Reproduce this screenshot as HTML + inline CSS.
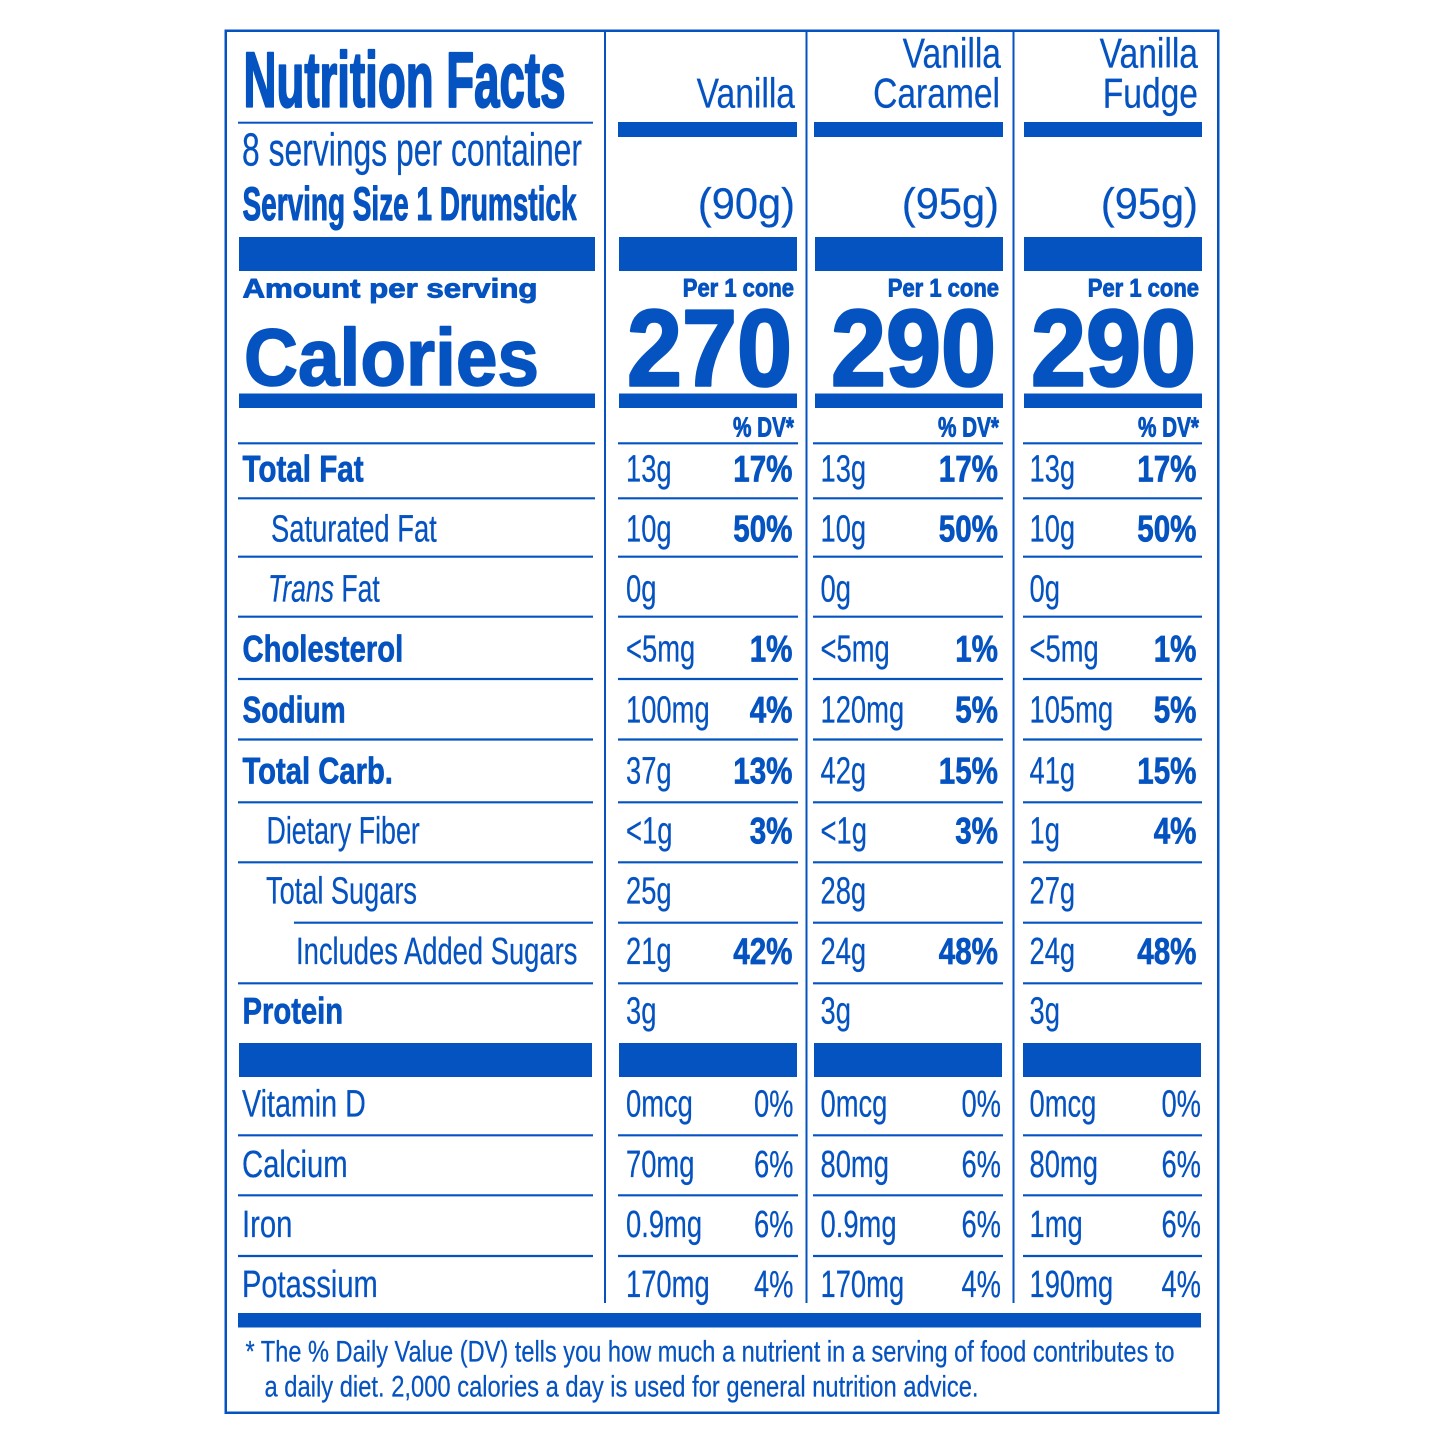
<!DOCTYPE html>
<html>
<head>
<meta charset="utf-8">
<style>
html,body{margin:0;padding:0;background:#fff;}
svg{display:block;}
text{font-family:"Liberation Sans",Arial,sans-serif;fill:#0553c1;}
.b{font-weight:bold;stroke:#0553c1;stroke-width:0.7px;stroke-linejoin:round;}
.r{stroke:#0553c1;stroke-width:0.25px;}
</style>
</head>
<body>
<svg width="1445" height="1445" viewBox="0 0 1445 1445" xmlns="http://www.w3.org/2000/svg">
<rect x="0" y="0" width="1445" height="1445" fill="#fff"/>
<g fill="#0553c1" stroke="none">
<!-- outer border -->
<rect x="225" y="29.5" width="994" height="2.5"/>
<rect x="225" y="1411.5" width="994" height="2.5"/>
<rect x="224.5" y="29.5" width="2.5" height="1384.5"/>
<rect x="1217" y="29.5" width="2.5" height="1384.5"/>
<!-- dividers -->
<rect x="604" y="30" width="2" height="1273"/>
<rect x="805.5" y="30" width="2" height="1273"/>
<rect x="1012.5" y="30" width="2" height="1273"/>
<!-- top rules/bars -->
<rect x="238" y="121.7" width="355" height="2"/>
<rect x="618" y="122" width="179" height="15"/>
<rect x="814" y="122" width="189" height="15"/>
<rect x="1024" y="122" width="178" height="15"/>
<!-- thick bar 2 -->
<rect x="239" y="237" width="356" height="34"/>
<rect x="619" y="237" width="178" height="34"/>
<rect x="815" y="237" width="188" height="34"/>
<rect x="1024" y="237" width="178" height="34"/>
<!-- bar 3 -->
<rect x="239" y="393.5" width="356" height="14.5"/>
<rect x="619" y="393.5" width="178" height="14.5"/>
<rect x="815" y="393.5" width="188" height="14.5"/>
<rect x="1024" y="393.5" width="178" height="14.5"/>
<!-- bar 4 -->
<rect x="239" y="1043" width="353" height="34"/>
<rect x="619" y="1043" width="178" height="34"/>
<rect x="814" y="1043" width="188" height="34"/>
<rect x="1023" y="1043" width="178" height="34"/>
<!-- bottom bar -->
<rect x="238" y="1313" width="963" height="14.5"/>
</g>
<!-- row rules -->
<g stroke="#0553c1" stroke-width="2.2">
<line x1="238" y1="443.3" x2="595" y2="443.3"/><line x1="618" y1="443.3" x2="798" y2="443.3"/><line x1="813" y1="443.3" x2="1003" y2="443.3"/><line x1="1023" y1="443.3" x2="1202" y2="443.3"/>
<line x1="238" y1="498.3" x2="595" y2="498.3"/><line x1="618" y1="498.3" x2="798" y2="498.3"/><line x1="813" y1="498.3" x2="1003" y2="498.3"/><line x1="1023" y1="498.3" x2="1202" y2="498.3"/>
<line x1="238" y1="556.7" x2="593" y2="556.7"/><line x1="618" y1="556.7" x2="798" y2="556.7"/><line x1="813" y1="556.7" x2="1003" y2="556.7"/><line x1="1023" y1="556.7" x2="1202" y2="556.7"/>
<line x1="238" y1="616.7" x2="593" y2="616.7"/><line x1="618" y1="616.7" x2="798" y2="616.7"/><line x1="813" y1="616.7" x2="1003" y2="616.7"/><line x1="1023" y1="616.7" x2="1202" y2="616.7"/>
<line x1="238" y1="679" x2="593" y2="679"/><line x1="618" y1="679" x2="798" y2="679"/><line x1="813" y1="679" x2="1003" y2="679"/><line x1="1023" y1="679" x2="1202" y2="679"/>
<line x1="238" y1="739.5" x2="593" y2="739.5"/><line x1="618" y1="739.5" x2="798" y2="739.5"/><line x1="813" y1="739.5" x2="1003" y2="739.5"/><line x1="1023" y1="739.5" x2="1202" y2="739.5"/>
<line x1="238" y1="802.3" x2="593" y2="802.3"/><line x1="618" y1="802.3" x2="798" y2="802.3"/><line x1="813" y1="802.3" x2="1003" y2="802.3"/><line x1="1023" y1="802.3" x2="1202" y2="802.3"/>
<line x1="238" y1="862.3" x2="593" y2="862.3"/><line x1="618" y1="862.3" x2="798" y2="862.3"/><line x1="813" y1="862.3" x2="1003" y2="862.3"/><line x1="1023" y1="862.3" x2="1202" y2="862.3"/>
<line x1="294" y1="922.7" x2="593" y2="922.7"/><line x1="618" y1="922.7" x2="798" y2="922.7"/><line x1="813" y1="922.7" x2="1003" y2="922.7"/><line x1="1023" y1="922.7" x2="1202" y2="922.7"/>
<line x1="238" y1="983.3" x2="593" y2="983.3"/><line x1="618" y1="983.3" x2="798" y2="983.3"/><line x1="813" y1="983.3" x2="1003" y2="983.3"/><line x1="1023" y1="983.3" x2="1202" y2="983.3"/>
<line x1="238" y1="1135.3" x2="593" y2="1135.3"/><line x1="618" y1="1135.3" x2="798" y2="1135.3"/><line x1="813" y1="1135.3" x2="1003" y2="1135.3"/><line x1="1023" y1="1135.3" x2="1202" y2="1135.3"/>
<line x1="238" y1="1195.3" x2="593" y2="1195.3"/><line x1="618" y1="1195.3" x2="798" y2="1195.3"/><line x1="813" y1="1195.3" x2="1003" y2="1195.3"/><line x1="1023" y1="1195.3" x2="1202" y2="1195.3"/>
<line x1="238" y1="1256" x2="593" y2="1256"/><line x1="618" y1="1256" x2="798" y2="1256"/><line x1="813" y1="1256" x2="1003" y2="1256"/><line x1="1023" y1="1256" x2="1202" y2="1256"/>
</g>

<!-- header left -->
<text class="b" x="243.5" y="106.7" font-size="78" style="stroke-width:2.2px" textLength="322" lengthAdjust="spacingAndGlyphs">Nutrition Facts</text>
<text class="r" x="242" y="165.5" font-size="46" textLength="340" lengthAdjust="spacingAndGlyphs">8 servings per container</text>
<text class="b" x="242.5" y="220" font-size="47" style="stroke-width:1.1px" textLength="334" lengthAdjust="spacingAndGlyphs">Serving Size 1 Drumstick</text>
<text class="b" x="242.5" y="297.7" font-size="27" style="stroke-width:0.9px" font-weight="900" textLength="295" lengthAdjust="spacingAndGlyphs">Amount per serving</text>
<text class="b" x="244" y="385" font-size="81" style="stroke-width:1.6px" textLength="295" lengthAdjust="spacingAndGlyphs">Calories</text>

<!-- column headers -->
<text class="r" x="795" y="107.7" font-size="42" text-anchor="end" transform="translate(795,0) scale(0.8,1) translate(-795,0)">Vanilla</text>
<text class="r" x="1001" y="67.7" font-size="42" text-anchor="end" transform="translate(1001,0) scale(0.8,1) translate(-1001,0)">Vanilla</text>
<text class="r" x="1000" y="107.7" font-size="42" text-anchor="end" transform="translate(1000,0) scale(0.8,1) translate(-1000,0)">Caramel</text>
<text class="r" x="1198" y="67.7" font-size="42" text-anchor="end" transform="translate(1198,0) scale(0.8,1) translate(-1198,0)">Vanilla</text>
<text class="r" x="1198" y="107.7" font-size="42" text-anchor="end" transform="translate(1198,0) scale(0.8,1) translate(-1198,0)">Fudge</text>

<text class="r" x="795" y="218.5" font-size="44" text-anchor="end" transform="translate(795,0) scale(0.945,1) translate(-795,0)">(90g)</text>
<text class="r" x="999" y="218.5" font-size="44" text-anchor="end" transform="translate(999,0) scale(0.945,1) translate(-999,0)">(95g)</text>
<text class="r" x="1198" y="218.5" font-size="44" text-anchor="end" transform="translate(1198,0) scale(0.945,1) translate(-1198,0)">(95g)</text>

<text class="b" x="794" y="296.7" font-size="25" style="stroke-width:0.9px" text-anchor="end" transform="translate(794,0) scale(0.88,1) translate(-794,0)">Per 1 cone</text>
<text class="b" x="999" y="296.7" font-size="25" style="stroke-width:0.9px" text-anchor="end" transform="translate(999,0) scale(0.88,1) translate(-999,0)">Per 1 cone</text>
<text class="b" x="1199" y="296.7" font-size="25" style="stroke-width:0.9px" text-anchor="end" transform="translate(1199,0) scale(0.88,1) translate(-1199,0)">Per 1 cone</text>

<text class="b" x="627" y="385.5" font-size="109" style="stroke-width:2.6px" textLength="165" lengthAdjust="spacingAndGlyphs">270</text>
<text class="b" x="831" y="385.5" font-size="109" style="stroke-width:2.6px" textLength="165" lengthAdjust="spacingAndGlyphs">290</text>
<text class="b" x="1031" y="385.5" font-size="109" style="stroke-width:2.6px" textLength="165" lengthAdjust="spacingAndGlyphs">290</text>

<text class="b" x="794" y="436.7" font-size="28" style="stroke-width:0.9px" text-anchor="end" transform="translate(794,0) scale(0.74,1) translate(-794,0)">% DV*</text>
<text class="b" x="999" y="436.7" font-size="28" style="stroke-width:0.9px" text-anchor="end" transform="translate(999,0) scale(0.74,1) translate(-999,0)">% DV*</text>
<text class="b" x="1199" y="436.7" font-size="28" style="stroke-width:0.9px" text-anchor="end" transform="translate(1199,0) scale(0.74,1) translate(-1199,0)">% DV*</text>

<!-- left labels -->
<g font-size="37">
<text class="b" transform="translate(242.5,481.7) scale(0.80,1)">Total Fat</text>
<text class="b" transform="translate(242.5,661.7) scale(0.79,1)">Cholesterol</text>
<text class="b" transform="translate(242.5,722.3) scale(0.76,1)">Sodium</text>
<text class="b" transform="translate(242.5,783.3) scale(0.79,1)">Total Carb.</text>
<text class="b" transform="translate(242.5,1023.3) scale(0.79,1)">Protein</text>
</g>
<g font-size="38">
<text class="r" transform="translate(271,541.7) scale(0.72,1)">Saturated Fat</text>
<text class="r" transform="translate(268,601.7) scale(0.70,1)"><tspan font-style="italic">Trans</tspan> Fat</text>
<text class="r" transform="translate(266.5,843.3) scale(0.705,1)">Dietary Fiber</text>
<text class="r" transform="translate(266,903.3) scale(0.715,1)">Total Sugars</text>
<text class="r" transform="translate(296,964) scale(0.72,1)">Includes Added Sugars</text>
<text class="r" transform="translate(242,1116.5) scale(0.755,1)">Vitamin D</text>
<text class="r" transform="translate(242,1177) scale(0.77,1)">Calcium</text>
<text class="r" transform="translate(242,1237) scale(0.77,1)">Iron</text>
<text class="r" transform="translate(242,1297) scale(0.765,1)">Potassium</text>
</g>

<!-- values: regular amounts -->
<g font-size="38">
<!-- col1 -->
<text class="r" transform="translate(626,481.7) scale(0.72,1)">13g</text>
<text class="r" transform="translate(626,541.7) scale(0.72,1)">10g</text>
<text class="r" transform="translate(626,601.7) scale(0.72,1)">0g</text>
<text class="r" transform="translate(626,661.7) scale(0.72,1)">&lt;5mg</text>
<text class="r" transform="translate(626,722.3) scale(0.72,1)">100mg</text>
<text class="r" transform="translate(626,783.3) scale(0.72,1)">37g</text>
<text class="r" transform="translate(626,843.3) scale(0.72,1)">&lt;1g</text>
<text class="r" transform="translate(626,903.3) scale(0.72,1)">25g</text>
<text class="r" transform="translate(626,964) scale(0.72,1)">21g</text>
<text class="r" transform="translate(626,1023.3) scale(0.72,1)">3g</text>
<text class="r" transform="translate(626,1116.5) scale(0.72,1)">0mcg</text>
<text class="r" transform="translate(626,1177) scale(0.72,1)">70mg</text>
<text class="r" transform="translate(626,1237) scale(0.72,1)">0.9mg</text>
<text class="r" transform="translate(626,1297) scale(0.72,1)">170mg</text>
<!-- col2 -->
<text class="r" transform="translate(820.5,481.7) scale(0.72,1)">13g</text>
<text class="r" transform="translate(820.5,541.7) scale(0.72,1)">10g</text>
<text class="r" transform="translate(820.5,601.7) scale(0.72,1)">0g</text>
<text class="r" transform="translate(820.5,661.7) scale(0.72,1)">&lt;5mg</text>
<text class="r" transform="translate(820.5,722.3) scale(0.72,1)">120mg</text>
<text class="r" transform="translate(820.5,783.3) scale(0.72,1)">42g</text>
<text class="r" transform="translate(820.5,843.3) scale(0.72,1)">&lt;1g</text>
<text class="r" transform="translate(820.5,903.3) scale(0.72,1)">28g</text>
<text class="r" transform="translate(820.5,964) scale(0.72,1)">24g</text>
<text class="r" transform="translate(820.5,1023.3) scale(0.72,1)">3g</text>
<text class="r" transform="translate(820.5,1116.5) scale(0.72,1)">0mcg</text>
<text class="r" transform="translate(820.5,1177) scale(0.72,1)">80mg</text>
<text class="r" transform="translate(820.5,1237) scale(0.72,1)">0.9mg</text>
<text class="r" transform="translate(820.5,1297) scale(0.72,1)">170mg</text>
<!-- col3 -->
<text class="r" transform="translate(1029.5,481.7) scale(0.72,1)">13g</text>
<text class="r" transform="translate(1029.5,541.7) scale(0.72,1)">10g</text>
<text class="r" transform="translate(1029.5,601.7) scale(0.72,1)">0g</text>
<text class="r" transform="translate(1029.5,661.7) scale(0.72,1)">&lt;5mg</text>
<text class="r" transform="translate(1029.5,722.3) scale(0.72,1)">105mg</text>
<text class="r" transform="translate(1029.5,783.3) scale(0.72,1)">41g</text>
<text class="r" transform="translate(1029.5,843.3) scale(0.72,1)">1g</text>
<text class="r" transform="translate(1029.5,903.3) scale(0.72,1)">27g</text>
<text class="r" transform="translate(1029.5,964) scale(0.72,1)">24g</text>
<text class="r" transform="translate(1029.5,1023.3) scale(0.72,1)">3g</text>
<text class="r" transform="translate(1029.5,1116.5) scale(0.72,1)">0mcg</text>
<text class="r" transform="translate(1029.5,1177) scale(0.72,1)">80mg</text>
<text class="r" transform="translate(1029.5,1237) scale(0.72,1)">1mg</text>
<text class="r" transform="translate(1029.5,1297) scale(0.72,1)">190mg</text>
</g>

<!-- bold percentages -->
<g font-size="37" text-anchor="end">
<text class="b" transform="translate(792.5,481.7) scale(0.80,1)">17%</text>
<text class="b" transform="translate(792.5,541.7) scale(0.80,1)">50%</text>
<text class="b" transform="translate(792.5,661.7) scale(0.80,1)">1%</text>
<text class="b" transform="translate(792.5,722.3) scale(0.80,1)">4%</text>
<text class="b" transform="translate(792.5,783.3) scale(0.80,1)">13%</text>
<text class="b" transform="translate(792.5,843.3) scale(0.80,1)">3%</text>
<text class="b" transform="translate(792.5,964) scale(0.80,1)">42%</text>

<text class="b" transform="translate(998,481.7) scale(0.80,1)">17%</text>
<text class="b" transform="translate(998,541.7) scale(0.80,1)">50%</text>
<text class="b" transform="translate(998,661.7) scale(0.80,1)">1%</text>
<text class="b" transform="translate(998,722.3) scale(0.80,1)">5%</text>
<text class="b" transform="translate(998,783.3) scale(0.80,1)">15%</text>
<text class="b" transform="translate(998,843.3) scale(0.80,1)">3%</text>
<text class="b" transform="translate(998,964) scale(0.80,1)">48%</text>

<text class="b" transform="translate(1196.5,481.7) scale(0.80,1)">17%</text>
<text class="b" transform="translate(1196.5,541.7) scale(0.80,1)">50%</text>
<text class="b" transform="translate(1196.5,661.7) scale(0.80,1)">1%</text>
<text class="b" transform="translate(1196.5,722.3) scale(0.80,1)">5%</text>
<text class="b" transform="translate(1196.5,783.3) scale(0.80,1)">15%</text>
<text class="b" transform="translate(1196.5,843.3) scale(0.80,1)">4%</text>
<text class="b" transform="translate(1196.5,964) scale(0.80,1)">48%</text>
</g>

<!-- regular percentages -->
<g font-size="38" text-anchor="end">
<text class="r" transform="translate(793.5,1116.5) scale(0.72,1)">0%</text>
<text class="r" transform="translate(793.5,1177) scale(0.72,1)">6%</text>
<text class="r" transform="translate(793.5,1237) scale(0.72,1)">6%</text>
<text class="r" transform="translate(793.5,1297) scale(0.72,1)">4%</text>
<text class="r" transform="translate(1001,1116.5) scale(0.72,1)">0%</text>
<text class="r" transform="translate(1001,1177) scale(0.72,1)">6%</text>
<text class="r" transform="translate(1001,1237) scale(0.72,1)">6%</text>
<text class="r" transform="translate(1001,1297) scale(0.72,1)">4%</text>
<text class="r" transform="translate(1201,1116.5) scale(0.72,1)">0%</text>
<text class="r" transform="translate(1201,1177) scale(0.72,1)">6%</text>
<text class="r" transform="translate(1201,1237) scale(0.72,1)">6%</text>
<text class="r" transform="translate(1201,1297) scale(0.72,1)">4%</text>
</g>

<!-- footnote -->
<text class="r" x="245.5" y="1361.7" font-size="30" textLength="929" lengthAdjust="spacingAndGlyphs">* The % Daily Value (DV) tells you how much a nutrient in a serving of food contributes to</text>
<text class="r" x="264.5" y="1396.7" font-size="30" textLength="714" lengthAdjust="spacingAndGlyphs">a daily diet. 2,000 calories a day is used for general nutrition advice.</text>
</svg>
</body>
</html>
